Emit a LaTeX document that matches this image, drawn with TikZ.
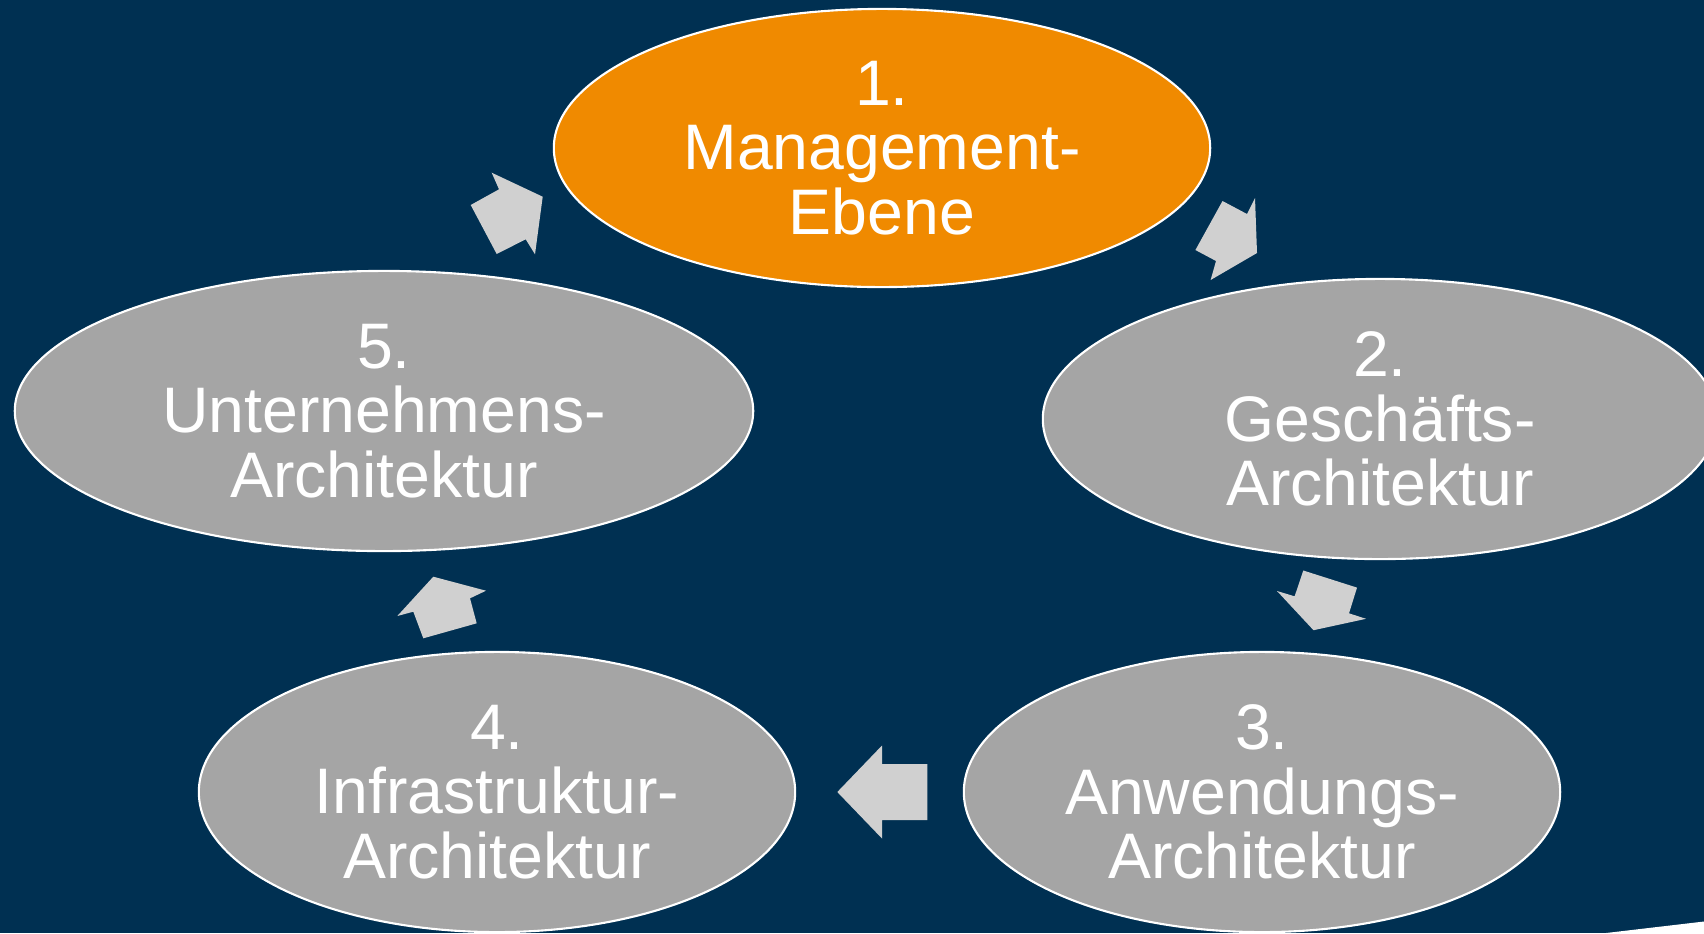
\documentclass[tikz,border=0pt]{standalone}
\usepackage{fontspec}
\setmainfont{Liberation Sans}
\usepackage{tikz}
\usetikzlibrary{shapes.geometric}
\definecolor{bgnavy}{RGB}{0,48,82}
\definecolor{mgmtorange}{RGB}{240,138,0}
\definecolor{stagegray}{RGB}{165,165,165}
\definecolor{arrowgray}{RGB}{208,208,208}
\tikzstyle{backdrop}=[fill=bgnavy,draw=none]
\tikzstyle{stage}=[ellipse,draw=white,line width=0.6pt,fill=stagegray,text=white,align=center,inner sep=0pt,minimum height=2.8cm,font=\fontsize{18.3}{18.4}\selectfont]
\tikzstyle{activestage}=[fill=mgmtorange]
\tikzstyle{cyclearrow}=[fill=arrowgray,draw=none]
\tikzstyle{pageedge}=[fill=white,draw=none]

\begin{document}
\begin{tikzpicture}[x=0.01cm,y=-0.01cm]

  % BACKGROUND
  \path[backdrop] (0,0) rectangle (1704,933);
  \useasboundingbox (0,0) rectangle (1704,933);

  % STAGES
  \node[stage,activestage,minimum width=6.56cm,minimum height=2.78cm] (mgmt) at (882,148) {1.\\Management-\\Ebene};
  \node[stage,minimum width=6.74cm] (business) at (1380,419) {2.\\Gesch\"afts-\\Architektur};
  \node[stage,minimum width=5.96cm] (application) at (1262,792) {3.\\Anwendungs-\\Architektur};
  \node[stage,minimum width=5.96cm] (infra) at (497,792) {4.\\Infrastruktur-\\Architektur};
  \node[stage,minimum width=7.38cm] (enterprise) at (384,411) {5.\\Unternehmens-\\Architektur};

  % CYCLE ARROWS
  \path[cyclearrow] (1222.5,201) -- (1247,214) -- (1255,198) -- (1257,253) -- (1210.6,280) -- (1216,261) -- (1195.4,250) -- cycle;
  \path[cyclearrow] (1303.3,570.5) -- (1357,587.6) -- (1349,613.3) -- (1366,618.8) -- (1313.5,630.2) -- (1277,591) -- (1294.6,596.3) -- cycle;
  \path[cyclearrow] (927.3,764) -- (882,764) -- (882,745.5) -- (837.3,792) -- (882,838.5) -- (882,820) -- (927.3,820) -- cycle;
  \path[cyclearrow] (423.3,638.3) -- (476.7,623.3) -- (470,598.3) -- (486,590.7) -- (433.3,576.7) -- (397.3,616) -- (413.3,611.7) -- cycle;
  \path[cyclearrow] (491.7,172.7) -- (542.7,196.7) -- (535,254.3) -- (525.7,239.3) -- (496.7,254) -- (470.7,205) -- (499,189.3) -- cycle;

  % PAGE EDGE
  \path[pageedge] (1606,933) -- (1704,921.5) -- (1704,933) -- cycle;

\end{tikzpicture}
\end{document}
